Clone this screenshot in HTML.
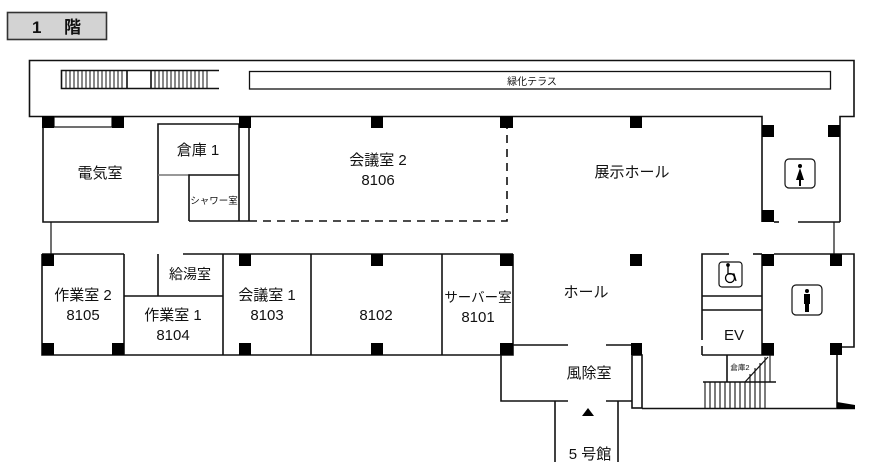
<!DOCTYPE html>
<html><head><meta charset="utf-8"><style>
html,body{margin:0;padding:0;background:#fff;}
svg{display:block;}
text{font-family:"Liberation Sans","Noto Sans CJK JP",sans-serif;fill:#111;}
</style></head><body>
<svg width="882" height="465" viewBox="0 0 882 465" xmlns="http://www.w3.org/2000/svg">
<g stroke="#111" stroke-width="1.6" fill="none">
<rect x="7.5" y="12.5" width="99" height="27" fill="#d3d3d3" stroke="#333"/>
<polyline points="762,222 762,116.5 29.5,116.5 29.5,60.5 854,60.5 854,116.5 840,116.5 840,222"/>
<polyline points="219,70.5 61.5,70.5 61.5,88.5 219,88.5"/>
<line x1="127" y1="70.5" x2="127" y2="88.5"/><line x1="151" y1="70.5" x2="151" y2="88.5"/>
<rect x="249.5" y="71.5" width="581" height="17.5" stroke-width="1.3"/>
<rect x="54" y="117" width="58" height="10" stroke-width="1.2"/>
<polyline points="43,124 43,222 158,222 158,124 239,124"/>
<line x1="158" y1="175" x2="190" y2="175" stroke="#777"/>
<polyline points="189,221 189,175 239,175"/>
<line x1="189" y1="221" x2="249" y2="221"/>
<line x1="239" y1="124" x2="239" y2="221"/>
<line x1="249" y1="124" x2="249" y2="221"/>
<path d="M249,221 H507 V128" stroke-dasharray="8,6"/>
<line x1="51" y1="222" x2="51" y2="254" stroke-width="1.2"/>
<line x1="834" y1="222" x2="834" y2="254" stroke-width="1.2"/>
<polyline points="183,254 513,254"/>
<line x1="42" y1="254" x2="124" y2="254"/>
<polyline points="42,254 42,355 513,355 513,254"/>
<line x1="124" y1="254" x2="124" y2="355"/>
<line x1="124" y1="296" x2="223" y2="296"/>
<line x1="158" y1="254" x2="158" y2="296"/>
<line x1="223" y1="254" x2="223" y2="355"/>
<line x1="311" y1="254" x2="311" y2="355"/>
<line x1="442" y1="254" x2="442" y2="355"/>
<polyline points="513,345 568,345"/><polyline points="606,345 632,345"/>
<polyline points="501,355 501,401 568,401"/><polyline points="606,401 632,401"/>
<rect x="632" y="355" width="10" height="53"/>
<line x1="555" y1="401" x2="555" y2="462"/><line x1="618" y1="401" x2="618" y2="462"/>
<line x1="642" y1="408.5" x2="855" y2="408.5"/>
<line x1="837" y1="355" x2="837" y2="408"/>
<polyline points="729,254 702,254 702,340"/><line x1="702" y1="346" x2="702" y2="355"/>
<line x1="753" y1="254" x2="762" y2="254"/>
<line x1="702" y1="296" x2="762" y2="296"/>
<line x1="702" y1="310" x2="762" y2="310"/>
<line x1="702" y1="355" x2="774" y2="355"/>
<line x1="762" y1="254" x2="762" y2="355"/>
<rect x="719" y="262" width="23" height="25" rx="3" stroke-width="1.2"/>
<polyline points="727,355 727,382"/>
<line x1="703" y1="382" x2="776" y2="382"/>
<line x1="745" y1="382" x2="768" y2="357" stroke-width="1.2"/>
<g stroke-width="1.1">
<line x1="705" y1="382" x2="705" y2="408"/><line x1="710" y1="382" x2="710" y2="408"/><line x1="715" y1="382" x2="715" y2="408"/><line x1="720" y1="382" x2="720" y2="408"/><line x1="725" y1="382" x2="725" y2="408"/><line x1="730" y1="382" x2="730" y2="408"/><line x1="735" y1="382" x2="735" y2="408"/><line x1="740" y1="382" x2="740" y2="408"/><line x1="745" y1="382" x2="745" y2="408"/><line x1="750" y1="374" x2="750" y2="408"/><line x1="755" y1="368" x2="755" y2="408"/><line x1="760" y1="363" x2="760" y2="408"/><line x1="765" y1="357" x2="765" y2="408"/><line x1="770" y1="355" x2="770" y2="382"/>
</g>
<polyline points="774,254 854,254 854,347 838,347"/>
<rect x="792" y="285" width="30" height="30" rx="4" stroke-width="1.2"/>
<line x1="774" y1="222" x2="779" y2="222"/><line x1="798" y1="222" x2="840" y2="222"/>
<rect x="785" y="159" width="30" height="29" rx="4" stroke-width="1.2"/>
</g>
<g stroke="#111" stroke-width="1">
<path d="M66,71V88M70,71V88M74,71V88M78,71V88M82,71V88M86,71V88M90,71V88M94,71V88M98,71V88M102,71V88M106,71V88M110,71V88M114,71V88M118,71V88M122,71V88"/>
<path d="M155,71V88M159,71V88M163,71V88M167,71V88M171,71V88M175,71V88M179,71V88M183,71V88M187,71V88M191,71V88M195,71V88M199,71V88M203,71V88M207,71V88"/>
</g>
<g fill="#000">
<rect x="42" y="116" width="12" height="12"/><rect x="112" y="116" width="12" height="12"/><rect x="239" y="116" width="12" height="12"/><rect x="371" y="116" width="12" height="12"/><rect x="500" y="116" width="13" height="12"/><rect x="630" y="116" width="12" height="12"/>
<rect x="762" y="125" width="12" height="12"/><rect x="828" y="125" width="12" height="12"/><rect x="762" y="210" width="12" height="12"/>
<rect x="42" y="254" width="12" height="12"/><rect x="42" y="343" width="12" height="12"/><rect x="112" y="343" width="12" height="12"/>
<rect x="239" y="254" width="12" height="12"/><rect x="239" y="343" width="12" height="12"/><rect x="371" y="254" width="12" height="12"/><rect x="371" y="343" width="12" height="12"/>
<rect x="500" y="254" width="13" height="12"/><rect x="500" y="343" width="13" height="12"/><rect x="630" y="254" width="12" height="12"/><rect x="631" y="343" width="11" height="12"/>
<rect x="762" y="254" width="12" height="12"/><rect x="830" y="254" width="12" height="12"/><rect x="762" y="343" width="12" height="12"/><rect x="830" y="343" width="12" height="12"/>
<polygon points="582,416 594,416 588,408"/>
<polygon points="837,402 855,405 855,409 837,409"/>
<circle cx="800" cy="166" r="2"/><polygon points="800,168 796,180 799,180 799,186 801,186 801,180 804,180"/>
<circle cx="807" cy="291" r="2"/><rect x="804" y="294" width="6" height="10"/><rect x="805" y="303" width="4" height="9"/>
</g>
<g fill="none" stroke="#000" stroke-width="1.3"><circle cx="730" cy="278" r="4.5"/><path d="M728,266v8h6l2,7"/><circle cx="728" cy="265" r="1.2" fill="#000"/></g>
<text x="32" y="33" font-size="17" font-weight="bold">1</text><text x="64" y="33" font-size="17" font-weight="bold">階</text>
<text x="532" y="85" font-size="10" text-anchor="middle">緑化テラス</text>
<g font-size="15" text-anchor="middle">
<text x="100" y="178">電気室</text>
<text x="198" y="155">倉庫 1</text>
<text x="378" y="165">会議室 2</text><text x="378" y="185">8106</text>
<text x="632" y="177">展示ホール</text>
<text x="83" y="300">作業室 2</text><text x="83" y="320">8105</text>
<text x="173" y="320">作業室 1</text><text x="173" y="340">8104</text>
<text x="190" y="279" font-size="14">給湯室</text>
<text x="267" y="300">会議室 1</text><text x="267" y="320">8103</text>
<text x="376" y="320">8102</text>
<text x="478" y="302" font-size="13.5">サーバー室</text><text x="478" y="322">8101</text>
<text x="586" y="297">ホール</text>
<text x="589" y="378">風除室</text>
<text x="590" y="459">5 号館</text>
<text x="734" y="340">EV</text>
</g>
<text x="214" y="204" font-size="9.5" text-anchor="middle">シャワー室</text>
<text x="740" y="370" font-size="7.5" text-anchor="middle">倉庫2</text>
</svg>
</body></html>
